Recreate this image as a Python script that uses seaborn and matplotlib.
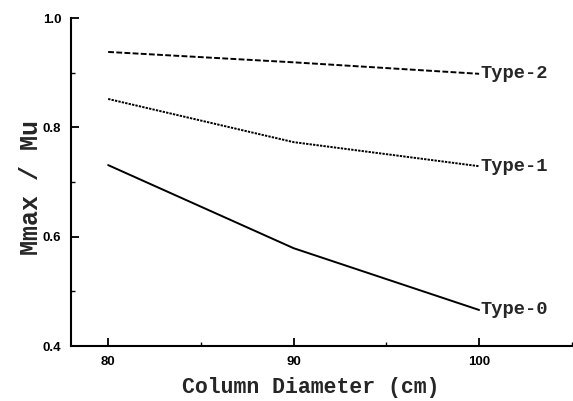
import matplotlib
matplotlib.use("Agg")
import matplotlib.pyplot as plt
from matplotlib.ticker import MultipleLocator, FixedLocator
import seaborn as sns
import pandas as pd

# Column diameter (cm) and moment ratio Mmax/Mu for each column type
diameters = [80, 90, 100]
type0 = [0.731, 0.579, 0.466]
type1 = [0.852, 0.773, 0.729]
type2 = [0.938, 0.919, 0.898]
series_names = ["Type-0", "Type-1", "Type-2"]
x_ticks = [80, 90, 100]
y_ticks = [0.4, 0.6, 0.8, 1.0]

df = pd.DataFrame({
    "diameter": diameters * 3,
    "ratio": type0 + type1 + type2,
    "type": [n for n in series_names for _ in diameters],
})

sns.set_theme(style="ticks")
plt.rcParams["font.family"] = ["Liberation Sans", "DejaVu Sans"]

fig = plt.figure(figsize=(5.73, 4.01), dpi=100)
ax = fig.add_axes([0.124, 0.137, 0.874, 0.818])

dash_styles = {"Type-0": "", "Type-1": (1.2, 0.6), "Type-2": (3.0, 1.2)}
sns.lineplot(data=df, x="diameter", y="ratio", style="type", dashes=dash_styles,
             color="black", linewidth=1.4, legend=False, ax=ax)

mono = ["Liberation Mono", "DejaVu Sans Mono"]
for name, vals in zip(series_names, [type0, type1, type2]):
    ax.annotate(name, xy=(diameters[-1], vals[-1]), xytext=(1, 0),
                textcoords="offset points", ha="left", va="center",
                fontsize=13.5, family=mono, fontweight="bold")

ax.set_xlim(78, 105)
ax.set_ylim(0.4, 1.0)
ax.xaxis.set_major_locator(FixedLocator(x_ticks))
ax.xaxis.set_minor_locator(MultipleLocator(5))
ax.yaxis.set_major_locator(FixedLocator(y_ticks))
ax.yaxis.set_minor_locator(MultipleLocator(0.1))
ax.set_xticklabels([str(v) for v in x_ticks], fontsize=9.5, fontweight="bold")
ax.set_yticklabels([f"{v:.1f}" for v in y_ticks], fontsize=9.5, fontweight="bold")
ax.tick_params(which="major", direction="in", length=6, width=1.3, colors="black", pad=7)
ax.tick_params(which="minor", direction="in", length=3, width=1.0, colors="black")

sns.despine(ax=ax)
for s in ("left", "bottom"):
    ax.spines[s].set_linewidth(1.5)
    ax.spines[s].set_color("black")

ax.set_xlabel("Column Diameter (cm)", fontsize=15.5, family=mono, fontweight="bold")
ax.xaxis.set_label_coords(0.479, -0.094)
ax.set_ylabel("Mmax / Mu", fontsize=18, family=mono, fontweight="bold")
ax.yaxis.set_label_coords(-0.056, 0.482)

fig.savefig("out.png", dpi=100, facecolor="white")
